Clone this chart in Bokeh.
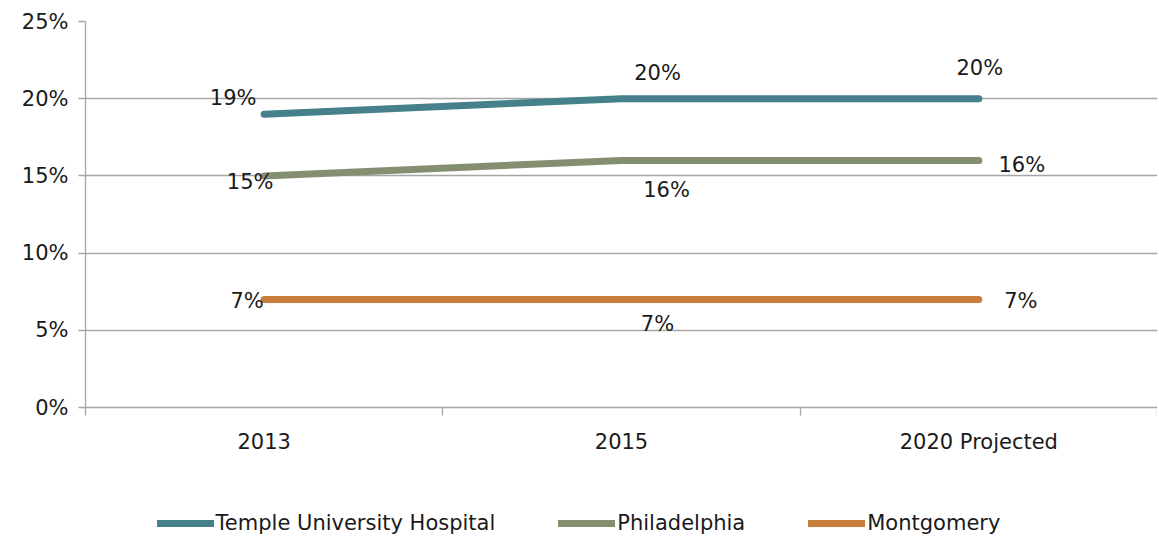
from bokeh.plotting import figure
from bokeh.layouts import column
from bokeh.models import ColumnDataSource, FixedTicker, NumeralTickFormatter, Range1d, Legend, LegendItem
from bokeh.embed import file_html
from bokeh.resources import INLINE
from bokeh.core.properties import value

categories = ["2013", "2015", "2020 Projected"]
series_names = ["Temple University Hospital", "Philadelphia", "Montgomery"]
temple = [0.19, 0.20, 0.20]
philadelphia = [0.15, 0.16, 0.16]
montgomery = [0.07, 0.07, 0.07]
y_ticks = [0, 0.05, 0.10, 0.15, 0.20, 0.25]

colors = ["#46808A", "#848F71", "#C87F3C"]
# label pixel offsets (styling)
label_dx = [[-31, 36, 1], [-14, 45, 43], [-17, 36, 42]]
label_dy = [[-16, -26, -31], [6, 30, 5], [2, 25, 2]]

FONT = "DejaVu Sans"
FS = "21px"
GRID = "#A6A6A6"

xs = [i + 0.5 for i in range(len(categories))]

p = figure(frame_width=1072, frame_height=386, output_backend="svg", toolbar_location=None,
           x_range=Range1d(0, len(categories)), y_range=Range1d(0, 0.25),
           min_border_left=85, min_border_right=0, min_border_top=21, min_border_bottom=0)
p.outline_line_color = None
p.background_fill_color = "white"

p.xgrid.grid_line_color = None
p.ygrid.grid_line_color = GRID
p.ygrid.grid_line_width = 1.3

p.yaxis.ticker = FixedTicker(ticks=y_ticks, minor_ticks=[])
p.yaxis.formatter = NumeralTickFormatter(format="0%")
p.yaxis.axis_line_color = GRID
p.yaxis.axis_line_width = 1.3
p.yaxis.major_tick_line_color = GRID
p.yaxis.major_tick_line_width = 1.3
p.yaxis.major_tick_in = 0
p.yaxis.major_tick_out = 7
p.yaxis.minor_tick_line_color = None
p.yaxis.major_label_standoff = 10
p.yaxis.major_label_text_font = FONT
p.yaxis.major_label_text_font_size = FS
p.yaxis.major_label_text_color = "#1a1a1a"

p.xaxis.ticker = FixedTicker(ticks=xs, minor_ticks=list(range(len(categories) + 1)))
p.xaxis.major_label_overrides = {x: c for x, c in zip(xs, categories)}
p.xaxis.axis_line_color = GRID
p.xaxis.axis_line_width = 1.3
p.xaxis.major_tick_line_color = None
p.xaxis.minor_tick_line_color = GRID
p.xaxis.minor_tick_line_width = 1.3
p.xaxis.minor_tick_in = 0
p.xaxis.minor_tick_out = 8
p.xaxis.major_label_standoff = 14
p.xaxis.major_label_text_font = FONT
p.xaxis.major_label_text_font_size = FS
p.xaxis.major_label_text_color = "#1a1a1a"

# legend strip: a second figure whose copies of the series lie outside its view
p2 = figure(frame_width=1157, frame_height=84, output_backend="svg", toolbar_location=None,
            x_range=Range1d(0, len(categories)), y_range=Range1d(5, 6),
            min_border=0)
p2.outline_line_color = None
p2.axis.visible = False
p2.grid.grid_line_color = None

items = []
for name, vals, col, dxs, dys in zip(series_names, [temple, philadelphia, montgomery], colors, label_dx, label_dy):
    src = ColumnDataSource(dict(x=xs, y=vals, t=[f"{round(v*100)}%" for v in vals], dx=dxs, dy=dys))
    p.line("x", "y", source=src, line_color=col, line_width=7, line_cap="round", line_join="round")
    p.text("x", "y", text="t", source=src, x_offset="dx", y_offset="dy",
           text_align="center", text_baseline="middle", text_font=value(FONT),
           text_font_size=FS, text_color="#1a1a1a")
    r2 = p2.line("x", "y", source=src, line_color=col, line_width=7, line_cap="round")
    items.append(LegendItem(label=name, renderers=[r2]))

legend = Legend(items=items, orientation="horizontal", location="bottom_center",
                glyph_width=57, glyph_height=20, label_standoff=2, spacing=63,
                label_text_font=FONT, label_text_font_size=FS, label_text_color="#1a1a1a",
                border_line_color=None, background_fill_alpha=0, margin=5, padding=0)
p2.add_layout(legend, "center")

open("out.html", "w").write(file_html(column(p, p2, spacing=0), INLINE))
